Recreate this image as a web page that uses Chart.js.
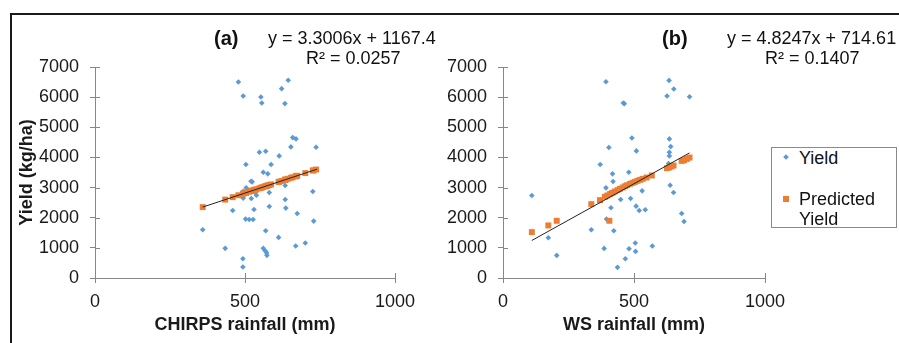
<!DOCTYPE html>
<html><head><meta charset="utf-8">
<script src="https://cdn.jsdelivr.net/npm/chart.js@4"></script>
<style>
html,body{margin:0;padding:0;background:#fff;width:899px;height:343px;overflow:hidden;font-family:"Liberation Sans",Arial,sans-serif;}
#frame{position:absolute;left:10px;top:13px;width:1000px;height:400px;border:2px solid #1a1a1a;box-sizing:border-box;}
.c{position:absolute;top:0;}
.t{position:absolute;white-space:nowrap;color:#111;font-size:18px;line-height:20px;}
.b{font-weight:bold;font-size:20px;}
#legend{position:absolute;left:771px;top:147px;width:126px;height:81px;border:1px solid #8a8a8a;box-sizing:border-box;background:#fff;}
.mk{position:absolute;}
</style></head>
<body>
<div id="frame"></div>
<div class="c" style="left:0;width:440px;height:343px"><canvas id="ca" width="440" height="343"></canvas></div>
<div class="c" style="left:440px;width:459px;height:343px"><canvas id="cb" width="459" height="343"></canvas></div>
<div class="t b" style="left:214px;top:28px">(a)</div>
<div class="t" style="left:268px;top:28px">y = 3.3006x + 1167.4</div>
<div class="t" style="left:306px;top:48px">R² = 0.0257</div>
<div class="t b" style="left:662px;top:28px">(b)</div>
<div class="t" style="left:727px;top:28px">y = 4.8247x + 714.61</div>
<div class="t" style="left:765px;top:48px">R² = 0.1407</div>
<div id="legend">
  <div class="mk" style="left:12px;top:7px;width:4px;height:4px;background:#5B9BD5;transform:rotate(45deg)"></div>
  <div class="t" style="left:27px;top:0px">Yield</div>
  <div class="mk" style="left:11px;top:48px;width:6px;height:6px;background:#ED7D31"></div>
  <div class="t" style="left:27px;top:41px">Predicted</div>
  <div class="t" style="left:27px;top:61px">Yield</div>
</div>
<script>
const xTicks = [0, 500, 1000];
const yTicks = [0, 1000, 2000, 3000, 4000, 5000, 6000, 7000];

// Panel (a): CHIRPS rainfall vs yield
const chirpsRain = [478,494,553,556,622,644,633,659,670,653,737,548,569,614,503,587,561,576,520,524,504,494,534,494,521,538,581,634,634,636,581,530,459,674,502,514,527,726,729,359,569,612,669,701,434,561,567,572,573,493,493];
const yieldA =     [6503,6040,6006,5806,6282,6558,5785,4658,4614,4349,4338,4172,4206,4051,3764,3764,3510,3455,3212,3190,2992,2880,2837,2650,2639,2749,2838,3069,2606,2319,2374,2274,2241,2142,1954,1943,1943,2871,1888,1601,1568,1347,1060,1159,983,983,905,839,751,640,364];
const predRainA =  [359,434,459,478,493,494,502,503,504,514,520,521,524,527,530,534,538,548,553,556,561,567,569,572,573,576,581,587,612,614,622,633,634,636,644,653,659,669,670,674,701,726,729,737];
const predYieldA = [2352,2600,2682,2745,2795,2798,2824,2828,2831,2864,2884,2887,2897,2907,2917,2930,2943,2976,2993,3002,3019,3039,3045,3055,3059,3069,3085,3105,3187,3194,3220,3257,3260,3267,3293,3323,3342,3376,3379,3392,3481,3564,3574,3600];
const trendRainA = [359, 740];
const trendYieldA = [2352, 3610];

// Panel (b): WS rainfall vs yield
const wsRain = [110,173,205,337,393,459,463,404,371,492,509,418,420,480,393,408,449,487,531,412,508,520,543,395,423,386,481,505,506,467,437,570,634,652,626,712,635,640,635,635,638,651,682,691,632];
const yieldB = [2737,1335,750,1600,6512,5806,5784,4327,3764,4647,4216,3455,3201,3510,2991,2826,2605,2638,2892,2329,2384,2241,2263,1954,1567,982,971,1159,883,640,353,1060,6556,6269,6037,6015,4614,4360,4172,4051,3079,2837,2141,1876,3800];
const predRainB =  [110,173,205,337,370,406,389,398,408,418,427,437,446,457,466,474,485,495,504,513,523,533,548,568,626,634,643,651,682,691,702,712];
const predYieldB = [1523,1744,1898,2450,2583,1898,2693,2737,2781,2826,2870,2914,2958,3002,3046,3079,3124,3157,3190,3223,3256,3289,3333,3400,3642,3664,3698,3731,3885,3907,3951,3996];
const trendRainB = [110, 712];
const trendYieldB = [1245, 4150];

const BLUE = '#5B9BD5', ORANGE = '#ED7D31', AXIS = '#878787', TXT = '#1a1a1a';
const FONT = '"Liberation Sans", Arial, sans-serif';
const zip = (xs, ys) => xs.map((x, i) => ({x, y: ys[i]}));

const crossTicks = {
  id: 'crossTicks',
  afterDraw(chart) {
    const {ctx, scales: {x, y}} = chart;
    ctx.save();
    ctx.strokeStyle = AXIS; ctx.lineWidth = 1;
    ctx.beginPath();
    x.ticks.forEach((t, i) => { const px = Math.round(x.getPixelForTick(i)) + 0.5; ctx.moveTo(px, y.bottom); ctx.lineTo(px, y.bottom - 5); });
    y.ticks.forEach((t, i) => { const py = Math.round(y.getPixelForTick(i)) + 0.5; ctx.moveTo(x.left, py); ctx.lineTo(x.left + 5, py); });
    ctx.stroke();
    ctx.restore();
  }
};

function makeChart(id, rain, yld, pRain, pYld, tRain, tYld, xTitle, yTitle, rightPad, yWidth) {
  return new Chart(document.getElementById(id), {
    type: 'scatter',
    data: {
      datasets: [
        {label: 'Trend', data: zip(tRain, tYld), showLine: true, borderColor: '#222', borderWidth: 1, pointRadius: 0, order: 0},
        {label: 'Predicted Yield', data: zip(pRain, pYld), pointStyle: 'rect', pointRadius: 4.2, backgroundColor: ORANGE, borderWidth: 0, order: 1},
        {label: 'Yield', data: zip(rain, yld), pointStyle: 'rectRot', pointRadius: 2.8, backgroundColor: BLUE, borderWidth: 0, order: 2}
      ]
    },
    options: {
      responsive: false, animation: false, maintainAspectRatio: false,
      layout: {padding: {left: 0, top: 67, right: rightPad, bottom: 0}},
      plugins: {legend: {display: false}, tooltip: {enabled: false}},
      scales: {
        x: {
          type: 'linear', min: 0, max: 1000,
          afterBuildTicks: s => { s.ticks = xTicks.map(v => ({value: v})); },
          afterFit: s => { s.height = 65; },
          grid: {drawOnChartArea: false, drawTicks: true, tickLength: 5, color: AXIS},
          border: {display: true, color: AXIS, width: 1},
          ticks: {color: TXT, font: {family: FONT, size: 18}, padding: 8, maxRotation: 0, callback: v => String(v)},
          title: {display: true, text: xTitle, color: TXT, font: {family: FONT, size: 18, weight: 'bold'}, padding: {top: 0, bottom: 7}}
        },
        y: {
          type: 'linear', min: 0, max: 7000,
          afterBuildTicks: s => { s.ticks = yTicks.map(v => ({value: v})); },
          afterFit: s => { s.width = yWidth; },
          grid: {drawOnChartArea: false, drawTicks: true, tickLength: 5, color: AXIS},
          border: {display: true, color: AXIS, width: 1},
          ticks: {color: TXT, font: {family: FONT, size: 18}, padding: 11, callback: v => String(v)},
          title: {display: !!yTitle, text: yTitle, color: TXT, font: {family: FONT, size: 18, weight: 'bold'}, padding: {top: 16, bottom: 0}}
        }
      }
    },
    plugins: [crossTicks]
  });
}

makeChart('ca', chirpsRain, yieldA, predRainA, predYieldA, trendRainA, trendYieldA, 'CHIRPS rainfall (mm)', 'Yield (kg/ha)', 45, 95);
makeChart('cb', wsRain, yieldB, predRainB, predYieldB, trendRainB, trendYieldB, 'WS rainfall (mm)', '', 134, 63);
</script>
</body></html>
